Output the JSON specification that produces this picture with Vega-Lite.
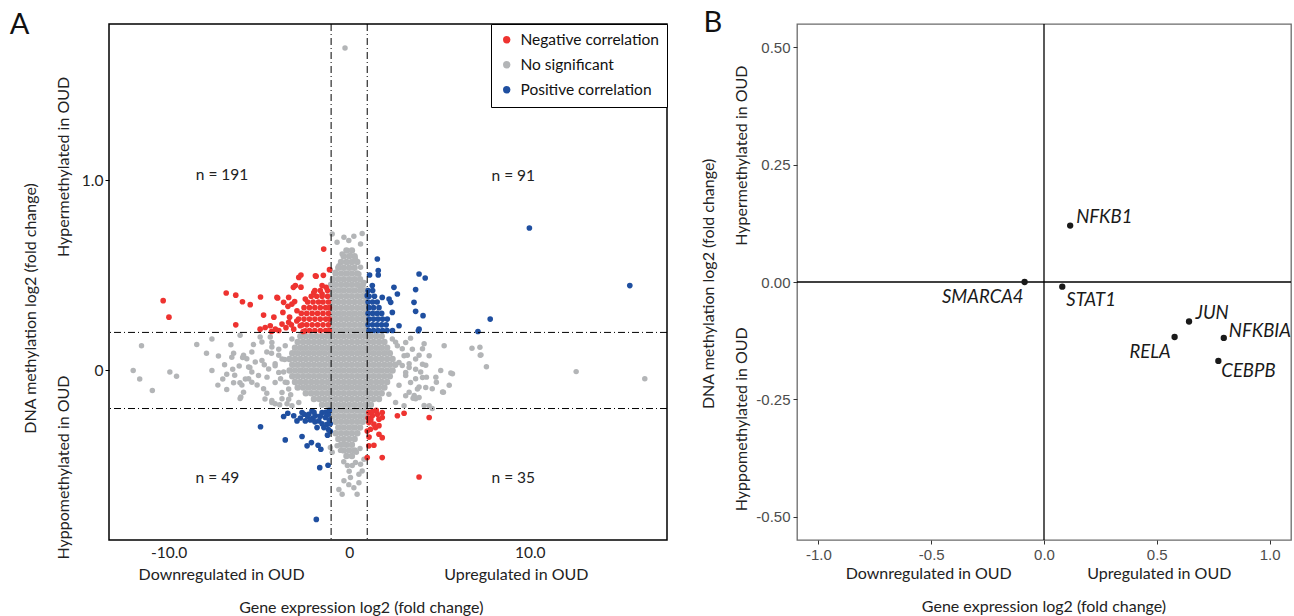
{
"$schema":"https://vega.github.io/schema/vega-lite/v6.json",
"background":"white",
"padding":{"left":9,"top":8,"right":0,"bottom":0},
"bounds":"flush",
"spacing":130,
"resolve":{"scale":{"color":"independent"},"legend":{"color":"independent"}},
"config":{"axis":{"grid":false},"text":{"font":"Lato"}},
"datasets":{
"core":[
{"x":-0.15,"y":0.63},{"x":0.15,"y":0.63},
{"x":-0.3,"y":0.6},{"x":0,"y":0.6},{"x":0.3,"y":0.6},
{"x":-0.45,"y":0.57},{"x":-0.15,"y":0.57},{"x":0.15,"y":0.57},{"x":0.45,"y":0.57},
{"x":-0.6,"y":0.54},{"x":-0.3,"y":0.54},{"x":0,"y":0.54},{"x":0.3,"y":0.54},
{"x":-0.75,"y":0.51},{"x":-0.45,"y":0.51},{"x":-0.15,"y":0.51},{"x":0.15,"y":0.51},{"x":0.45,"y":0.51},
{"x":-0.9,"y":0.48},{"x":-0.6,"y":0.48},{"x":-0.3,"y":0.48},{"x":0,"y":0.48},{"x":0.3,"y":0.48},{"x":0.6,"y":0.48},
{"x":-1,"y":0.45},{"x":-0.75,"y":0.45},{"x":-0.45,"y":0.45},{"x":-0.15,"y":0.45},{"x":0.15,"y":0.45},{"x":0.45,"y":0.45},{"x":0.75,"y":0.45},
{"x":-0.9,"y":0.42},{"x":-0.6,"y":0.42},{"x":-0.3,"y":0.42},{"x":0,"y":0.42},{"x":0.3,"y":0.42},{"x":0.6,"y":0.42},{"x":0.9,"y":0.42},
{"x":-1,"y":0.39},{"x":-0.75,"y":0.39},{"x":-0.45,"y":0.39},{"x":-0.15,"y":0.39},{"x":0.15,"y":0.39},{"x":0.45,"y":0.39},{"x":0.75,"y":0.39},{"x":0.95,"y":0.39},
{"x":-0.9,"y":0.36},{"x":-0.6,"y":0.36},{"x":-0.3,"y":0.36},{"x":0,"y":0.36},{"x":0.3,"y":0.36},{"x":0.6,"y":0.36},{"x":0.9,"y":0.36},
{"x":-1,"y":0.33},{"x":-0.75,"y":0.33},{"x":-0.45,"y":0.33},{"x":-0.15,"y":0.33},{"x":0.15,"y":0.33},{"x":0.45,"y":0.33},{"x":0.75,"y":0.33},{"x":0.95,"y":0.33},
{"x":-0.9,"y":0.3},{"x":-0.6,"y":0.3},{"x":-0.3,"y":0.3},{"x":0,"y":0.3},{"x":0.3,"y":0.3},{"x":0.6,"y":0.3},{"x":0.9,"y":0.3},
{"x":-1,"y":0.27},{"x":-0.75,"y":0.27},{"x":-0.45,"y":0.27},{"x":-0.15,"y":0.27},{"x":0.15,"y":0.27},{"x":0.45,"y":0.27},{"x":0.75,"y":0.27},{"x":0.95,"y":0.27},
{"x":-0.9,"y":0.24},{"x":-0.6,"y":0.24},{"x":-0.3,"y":0.24},{"x":0,"y":0.24},{"x":0.3,"y":0.24},{"x":0.6,"y":0.24},{"x":0.9,"y":0.24},
{"x":-1,"y":0.21},{"x":-0.75,"y":0.21},{"x":-0.45,"y":0.21},{"x":-0.15,"y":0.21},{"x":0.15,"y":0.21},{"x":0.45,"y":0.21},{"x":0.75,"y":0.21},{"x":0.95,"y":0.21},
{"x":-2.7,"y":0.18},{"x":-2.4,"y":0.18},{"x":-2.1,"y":0.18},{"x":-1.8,"y":0.18},{"x":-1.5,"y":0.18},{"x":-1.2,"y":0.18},{"x":-0.9,"y":0.18},{"x":-0.6,"y":0.18},{"x":-0.3,"y":0.18},{"x":0,"y":0.18},{"x":0.3,"y":0.18},{"x":0.6,"y":0.18},{"x":0.9,"y":0.18},{"x":1.2,"y":0.18},{"x":1.5,"y":0.18},{"x":1.8,"y":0.18},
{"x":-2.85,"y":0.15},{"x":-2.55,"y":0.15},{"x":-2.25,"y":0.15},{"x":-1.95,"y":0.15},{"x":-1.65,"y":0.15},{"x":-1.35,"y":0.15},{"x":-1.05,"y":0.15},{"x":-0.75,"y":0.15},{"x":-0.45,"y":0.15},{"x":-0.15,"y":0.15},{"x":0.15,"y":0.15},{"x":0.45,"y":0.15},{"x":0.75,"y":0.15},{"x":1.05,"y":0.15},{"x":1.35,"y":0.15},{"x":1.65,"y":0.15},{"x":1.95,"y":0.15},
{"x":-3,"y":0.12},{"x":-2.7,"y":0.12},{"x":-2.4,"y":0.12},{"x":-2.1,"y":0.12},{"x":-1.8,"y":0.12},{"x":-1.5,"y":0.12},{"x":-1.2,"y":0.12},{"x":-0.9,"y":0.12},{"x":-0.6,"y":0.12},{"x":-0.3,"y":0.12},{"x":0,"y":0.12},{"x":0.3,"y":0.12},{"x":0.6,"y":0.12},{"x":0.9,"y":0.12},{"x":1.2,"y":0.12},{"x":1.5,"y":0.12},{"x":1.8,"y":0.12},{"x":2.1,"y":0.12},
{"x":-3.15,"y":0.09},{"x":-2.85,"y":0.09},{"x":-2.55,"y":0.09},{"x":-2.25,"y":0.09},{"x":-1.95,"y":0.09},{"x":-1.65,"y":0.09},{"x":-1.35,"y":0.09},{"x":-1.05,"y":0.09},{"x":-0.75,"y":0.09},{"x":-0.45,"y":0.09},{"x":-0.15,"y":0.09},{"x":0.15,"y":0.09},{"x":0.45,"y":0.09},{"x":0.75,"y":0.09},{"x":1.05,"y":0.09},{"x":1.35,"y":0.09},{"x":1.65,"y":0.09},{"x":1.95,"y":0.09},{"x":2.25,"y":0.09},
{"x":-3.3,"y":0.06},{"x":-3,"y":0.06},{"x":-2.7,"y":0.06},{"x":-2.4,"y":0.06},{"x":-2.1,"y":0.06},{"x":-1.8,"y":0.06},{"x":-1.5,"y":0.06},{"x":-1.2,"y":0.06},{"x":-0.9,"y":0.06},{"x":-0.6,"y":0.06},{"x":-0.3,"y":0.06},{"x":0,"y":0.06},{"x":0.3,"y":0.06},{"x":0.6,"y":0.06},{"x":0.9,"y":0.06},{"x":1.2,"y":0.06},{"x":1.5,"y":0.06},{"x":1.8,"y":0.06},{"x":2.1,"y":0.06},{"x":2.4,"y":0.06},
{"x":-3.15,"y":0.03},{"x":-2.85,"y":0.03},{"x":-2.55,"y":0.03},{"x":-2.25,"y":0.03},{"x":-1.95,"y":0.03},{"x":-1.65,"y":0.03},{"x":-1.35,"y":0.03},{"x":-1.05,"y":0.03},{"x":-0.75,"y":0.03},{"x":-0.45,"y":0.03},{"x":-0.15,"y":0.03},{"x":0.15,"y":0.03},{"x":0.45,"y":0.03},{"x":0.75,"y":0.03},{"x":1.05,"y":0.03},{"x":1.35,"y":0.03},{"x":1.65,"y":0.03},{"x":1.95,"y":0.03},{"x":2.25,"y":0.03},{"x":2.55,"y":0.03},
{"x":-3.3,"y":0},{"x":-3,"y":0},{"x":-2.7,"y":0},{"x":-2.4,"y":0},{"x":-2.1,"y":0},{"x":-1.8,"y":0},{"x":-1.5,"y":0},{"x":-1.2,"y":0},{"x":-0.9,"y":0},{"x":-0.6,"y":0},{"x":-0.3,"y":0},{"x":0,"y":0},{"x":0.3,"y":0},{"x":0.6,"y":0},{"x":0.9,"y":0},{"x":1.2,"y":0},{"x":1.5,"y":0},{"x":1.8,"y":0},{"x":2.1,"y":0},{"x":2.4,"y":0},
{"x":-3.15,"y":-0.03},{"x":-2.85,"y":-0.03},{"x":-2.55,"y":-0.03},{"x":-2.25,"y":-0.03},{"x":-1.95,"y":-0.03},{"x":-1.65,"y":-0.03},{"x":-1.35,"y":-0.03},{"x":-1.05,"y":-0.03},{"x":-0.75,"y":-0.03},{"x":-0.45,"y":-0.03},{"x":-0.15,"y":-0.03},{"x":0.15,"y":-0.03},{"x":0.45,"y":-0.03},{"x":0.75,"y":-0.03},{"x":1.05,"y":-0.03},{"x":1.35,"y":-0.03},{"x":1.65,"y":-0.03},{"x":1.95,"y":-0.03},{"x":2.25,"y":-0.03},
{"x":-3,"y":-0.06},{"x":-2.7,"y":-0.06},{"x":-2.4,"y":-0.06},{"x":-2.1,"y":-0.06},{"x":-1.8,"y":-0.06},{"x":-1.5,"y":-0.06},{"x":-1.2,"y":-0.06},{"x":-0.9,"y":-0.06},{"x":-0.6,"y":-0.06},{"x":-0.3,"y":-0.06},{"x":0,"y":-0.06},{"x":0.3,"y":-0.06},{"x":0.6,"y":-0.06},{"x":0.9,"y":-0.06},{"x":1.2,"y":-0.06},{"x":1.5,"y":-0.06},{"x":1.8,"y":-0.06},{"x":2.1,"y":-0.06},
{"x":-2.85,"y":-0.09},{"x":-2.55,"y":-0.09},{"x":-2.25,"y":-0.09},{"x":-1.95,"y":-0.09},{"x":-1.65,"y":-0.09},{"x":-1.35,"y":-0.09},{"x":-1.05,"y":-0.09},{"x":-0.75,"y":-0.09},{"x":-0.45,"y":-0.09},{"x":-0.15,"y":-0.09},{"x":0.15,"y":-0.09},{"x":0.45,"y":-0.09},{"x":0.75,"y":-0.09},{"x":1.05,"y":-0.09},{"x":1.35,"y":-0.09},{"x":1.65,"y":-0.09},{"x":1.95,"y":-0.09},
{"x":-2.4,"y":-0.12},{"x":-2.1,"y":-0.12},{"x":-1.8,"y":-0.12},{"x":-1.5,"y":-0.12},{"x":-1.2,"y":-0.12},{"x":-0.9,"y":-0.12},{"x":-0.6,"y":-0.12},{"x":-0.3,"y":-0.12},{"x":0,"y":-0.12},{"x":0.3,"y":-0.12},{"x":0.6,"y":-0.12},{"x":0.9,"y":-0.12},{"x":1.2,"y":-0.12},{"x":1.5,"y":-0.12},{"x":1.8,"y":-0.12},
{"x":-1.95,"y":-0.15},{"x":-1.65,"y":-0.15},{"x":-1.35,"y":-0.15},{"x":-1.05,"y":-0.15},{"x":-0.75,"y":-0.15},{"x":-0.45,"y":-0.15},{"x":-0.15,"y":-0.15},{"x":0.15,"y":-0.15},{"x":0.45,"y":-0.15},{"x":0.75,"y":-0.15},{"x":1.05,"y":-0.15},{"x":1.35,"y":-0.15},{"x":1.65,"y":-0.15},
{"x":-1.5,"y":-0.18},{"x":-1.2,"y":-0.18},{"x":-0.9,"y":-0.18},{"x":-0.6,"y":-0.18},{"x":-0.3,"y":-0.18},{"x":0,"y":-0.18},{"x":0.3,"y":-0.18},{"x":0.6,"y":-0.18},{"x":0.9,"y":-0.18},{"x":1.2,"y":-0.18},
{"x":-1,"y":-0.21},{"x":-0.75,"y":-0.21},{"x":-0.45,"y":-0.21},{"x":-0.15,"y":-0.21},{"x":0.15,"y":-0.21},{"x":0.45,"y":-0.21},{"x":0.75,"y":-0.21},{"x":0.95,"y":-0.21},
{"x":-0.9,"y":-0.24},{"x":-0.6,"y":-0.24},{"x":-0.3,"y":-0.24},{"x":0,"y":-0.24},{"x":0.3,"y":-0.24},{"x":0.6,"y":-0.24},{"x":0.9,"y":-0.24},
{"x":-0.75,"y":-0.27},{"x":-0.45,"y":-0.27},{"x":-0.15,"y":-0.27},{"x":0.15,"y":-0.27},{"x":0.45,"y":-0.27},{"x":0.75,"y":-0.27},
{"x":-0.6,"y":-0.3},{"x":-0.3,"y":-0.3},{"x":0,"y":-0.3},{"x":0.3,"y":-0.3},{"x":0.6,"y":-0.3},
{"x":-0.75,"y":-0.33},{"x":-0.45,"y":-0.33},{"x":-0.15,"y":-0.33},{"x":0.15,"y":-0.33},{"x":0.45,"y":-0.33},
{"x":-0.6,"y":-0.36},{"x":-0.3,"y":-0.36},{"x":0,"y":-0.36},{"x":0.3,"y":-0.36},
{"x":-0.45,"y":-0.39},{"x":-0.15,"y":-0.39},{"x":0.15,"y":-0.39},
{"x":-0.3,"y":-0.42},{"x":0,"y":-0.42},{"x":0.3,"y":-0.42},
{"x":-0.15,"y":-0.45},{"x":0.15,"y":-0.45}
],
"grey":[
{"x":-0.23,"y":1.695},
{"x":-11.96,"y":0},{"x":-11.5,"y":0.13},{"x":-11.6,"y":-0.045},{"x":-10.9,"y":-0.105},{"x":-9.93,"y":-0.008},{"x":-9.56,"y":-0.03},
{"x":-8.44,"y":0.136},{"x":-7.6,"y":0.165},{"x":-7.9,"y":0.09},{"x":-7.24,"y":0.076},{"x":-6.55,"y":0.135},{"x":-6.4,"y":0.09},{"x":-6.5,"y":0.07},{"x":-7.6,"y":0},{"x":-6.9,"y":0.03},{"x":-6.78,"y":-0.02},{"x":-7,"y":-0.045},{"x":-7.27,"y":-0.077},{"x":-6.78,"y":-0.1},{"x":-6.4,"y":-0.065},{"x":-6.05,"y":-0.065},{"x":-5.94,"y":-0.077},{"x":-6.04,"y":-0.147},{"x":-5.85,"y":-0.115},{"x":-6.09,"y":0.024},{"x":-5.57,"y":0.018},{"x":-5.67,"y":0.062},{"x":-5.85,"y":0.08},{"x":-5.3,"y":0.136},{"x":-4.83,"y":0.15},{"x":-6.04,"y":0.185},{"x":-5.39,"y":0.097},{"x":-5.2,"y":0.045},{"x":-5.39,"y":-0.008},{"x":-5.02,"y":-0.026},{"x":-5.57,"y":-0.044},{"x":-5.39,"y":-0.062},{"x":-4.74,"y":-0.096},{"x":-4.56,"y":-0.12},{"x":-4.28,"y":-0.158},{"x":-4.1,"y":-0.175},{"x":-4.83,"y":0.053},{"x":-4.56,"y":0.097},{"x":-4.28,"y":0.123},{"x":-4.46,"y":0.008},{"x":-4.1,"y":0.035},{"x":-3.9,"y":0.08},{"x":-3.8,"y":-0.044},{"x":-3.63,"y":-0.008},{"x":-3.54,"y":-0.062},{"x":-3.35,"y":-0.097},{"x":-3.72,"y":-0.149},{"x":-3.44,"y":-0.175},{"x":-4.93,"y":0.176},{"x":-4.37,"y":0.176},
{"x":-4.28,"y":-0.168},{"x":-4.1,"y":-0.063},{"x":-3.72,"y":-0.116},{"x":-3.35,"y":-0.151},{"x":-3.9,"y":-0.01},{"x":-3.17,"y":-0.186},{"x":-2.79,"y":-0.168},{"x":-3.44,"y":-0.063},
{"x":-4.28,"y":0.147},{"x":-3.9,"y":0.112},{"x":-3.54,"y":0.13},{"x":-3.17,"y":0.165},{"x":-3.72,"y":0.06},{"x":-4.1,"y":0.025},
{"x":-4.7,"y":0.03},{"x":-4.66,"y":-0.15},{"x":-4.55,"y":-0.035},{"x":-4.3,"y":0.09},{"x":-3.85,"y":-0.18},{"x":-3.57,"y":0.058},{"x":-3.24,"y":-0.128},{"x":-5.1,"y":-0.076},{"x":-5.5,"y":0.016},{"x":-5.9,"y":0.068},{"x":-6,"y":-0.14},{"x":-5.75,"y":-0.045},{"x":-6.45,"y":0.006},{"x":-6.34,"y":-0.025},
{"x":3.4,"y":0.17},{"x":5.26,"y":0.13},{"x":6.8,"y":0.117},{"x":7.26,"y":0.08},{"x":4.15,"y":0.14},{"x":4.06,"y":0.114},{"x":3.87,"y":0.08},{"x":4.24,"y":0.027},{"x":3.96,"y":-0.008},{"x":5.07,"y":0},{"x":5.72,"y":-0.017},{"x":4.8,"y":-0.035},{"x":5.54,"y":-0.078},{"x":5.17,"y":-0.113},{"x":4.6,"y":-0.096},{"x":3.68,"y":-0.044},{"x":3.87,"y":-0.087},{"x":3.6,"y":-0.131},{"x":4.15,"y":-0.184},{"x":3.68,"y":-0.149},{"x":3.32,"y":-0.114},{"x":2.94,"y":0.026},{"x":3.13,"y":-0.026},{"x":2.76,"y":-0.078},{"x":3.22,"y":0.08},{"x":2.94,"y":0.114},{"x":2.57,"y":0.149},{"x":3.32,"y":0.035},
{"x":12.57,"y":-0.006},{"x":16.37,"y":-0.044},{"x":7.24,"y":0.122},{"x":7.3,"y":0.082},{"x":7.6,"y":0.02},{"x":5.63,"y":-0.013},{"x":5.22,"y":-0.115},{"x":4.83,"y":-0.062},{"x":4.28,"y":-0.035},{"x":3.78,"y":-0.097},{"x":3.54,"y":-0.146},{"x":4.6,"y":-0.2},
{"x":3.13,"y":-0.01},{"x":3.68,"y":0.007},{"x":4.06,"y":-0.037},{"x":3.4,"y":-0.063},{"x":4.24,"y":-0.09},{"x":3.87,"y":-0.142},{"x":4.43,"y":-0.186},{"x":3.13,"y":-0.133},{"x":2.57,"y":-0.168},{"x":3.04,"y":-0.186},{"x":2.2,"y":-0.125},
{"x":2.39,"y":0.165},{"x":2.67,"y":0.13},{"x":3.13,"y":0.147},{"x":3.5,"y":0.112},{"x":3.04,"y":0.077},{"x":3.68,"y":0.06},{"x":4.06,"y":0.033},{"x":4.43,"y":0.077},{"x":3.32,"y":0.016},{"x":2.76,"y":0.042},
{"x":-0.94,"y":0.717},{"x":-0.29,"y":0.7},{"x":0.26,"y":0.705},{"x":0.72,"y":0.72},{"x":-0.67,"y":0.674},{"x":-0.02,"y":0.683},{"x":0.63,"y":0.665},{"x":-0.39,"y":0.612},{"x":0.07,"y":0.604},{"x":-0.11,"y":0.568},{"x":0.35,"y":0.586},{"x":0.63,"y":0.542},{"x":0.54,"y":0.507},{"x":-0.76,"y":0.516},{"x":-0.57,"y":0.551},{"x":0.82,"y":0.463},{"x":0.63,"y":0.437},{"x":-1.04,"y":0.53},
{"x":-0.57,"y":-0.625},{"x":-0.29,"y":-0.58},{"x":-0.02,"y":-0.6},{"x":0.26,"y":-0.616},{"x":0.54,"y":-0.59},{"x":0.44,"y":-0.65},{"x":-0.39,"y":-0.65},{"x":0.07,"y":-0.563},{"x":0.54,"y":-0.546},{"x":0.72,"y":-0.528},{"x":0.35,"y":-0.484},{"x":0.63,"y":-0.493},{"x":0.82,"y":-0.467},{"x":0.17,"y":-0.5},{"x":-1.04,"y":-0.405},{"x":-0.94,"y":-0.43},{"x":-0.67,"y":-0.396},{"x":-0.48,"y":-0.42},{"x":-0.29,"y":-0.388},{"x":0.4,"y":-0.43},{"x":0.6,"y":-0.41},{"x":-0.1,"y":-0.5},{"x":-0.3,"y":-0.48},{"x":0,"y":-0.53}
],
"red":[
{"x":-10.3,"y":0.367},{"x":-9.98,"y":0.28},{"x":-6.81,"y":0.407},{"x":-6.28,"y":0.396},{"x":-5.91,"y":0.361},{"x":-5.48,"y":0.346},{"x":-6.28,"y":0.24},{"x":-4.91,"y":0.386},{"x":-3.96,"y":0.381},{"x":-4.74,"y":0.291},{"x":-4.17,"y":0.28},{"x":-3.39,"y":0.337},{"x":-2.89,"y":0.314},{"x":-3.67,"y":0.305},{"x":-4.93,"y":0.217},{"x":-4.65,"y":0.226},{"x":-4.37,"y":0.235},{"x":-4.09,"y":0.217},{"x":-3.72,"y":0.244},{"x":-3.35,"y":0.253},{"x":-3.07,"y":0.217},{"x":-2.71,"y":0.235},{"x":-2.43,"y":0.209},{"x":-3.09,"y":0.437},{"x":-2.79,"y":0.489},{"x":-2.67,"y":0.502},{"x":-2.67,"y":0.438},{"x":-1.83,"y":0.495},{"x":-1.43,"y":0.5},{"x":-1.41,"y":0.638},{"x":-1.09,"y":0.53},{"x":-3.02,"y":0.362},{"x":-2.43,"y":0.375},{"x":-1.96,"y":0.41},{"x":-1.5,"y":0.402},{"x":-1.28,"y":0.437},{"x":-2.98,"y":0.446},{"x":-1.87,"y":0.498},{"x":-1.5,"y":0.446},{"x":-4,"y":0.384},{"x":-3.63,"y":0.358},{"x":-3.35,"y":0.384},{"x":-3.17,"y":0.349},
{"x":-2.2,"y":0.21},{"x":-1.9,"y":0.21},{"x":-1.6,"y":0.21},{"x":-1.3,"y":0.21},{"x":-1.1,"y":0.21},
{"x":-2.6,"y":0.24},{"x":-2.35,"y":0.24},{"x":-2.05,"y":0.24},{"x":-1.75,"y":0.24},{"x":-1.45,"y":0.24},{"x":-1.15,"y":0.24},
{"x":-2.8,"y":0.27},{"x":-2.5,"y":0.27},{"x":-2.2,"y":0.27},{"x":-1.9,"y":0.27},{"x":-1.6,"y":0.27},{"x":-1.3,"y":0.27},{"x":-1.1,"y":0.27},
{"x":-2.65,"y":0.3},{"x":-2.35,"y":0.3},{"x":-2.05,"y":0.3},{"x":-1.75,"y":0.3},{"x":-1.45,"y":0.3},{"x":-1.15,"y":0.3},
{"x":-2.5,"y":0.33},{"x":-2.2,"y":0.33},{"x":-1.9,"y":0.33},{"x":-1.6,"y":0.33},{"x":-1.3,"y":0.33},{"x":-1.1,"y":0.33},
{"x":-2.3,"y":0.36},{"x":-2,"y":0.36},{"x":-1.7,"y":0.36},{"x":-1.45,"y":0.36},{"x":-1.15,"y":0.36},
{"x":-2.1,"y":0.39},{"x":-1.8,"y":0.39},{"x":-1.5,"y":0.39},{"x":-1.2,"y":0.39},
{"x":-1.9,"y":0.42},{"x":-1.6,"y":0.42},{"x":-1.2,"y":0.42},
{"x":-3.9,"y":0.21},{"x":-3.5,"y":0.225},{"x":-3.2,"y":0.24},{"x":-2.9,"y":0.26},{"x":-3.3,"y":0.28},{"x":-4.3,"y":0.205},{"x":-2.55,"y":0.205},
{"x":1.09,"y":-0.221},{"x":1.28,"y":-0.238},{"x":1.56,"y":-0.23},{"x":1.83,"y":-0.221},{"x":1.65,"y":-0.256},{"x":1.09,"y":-0.274},{"x":1.37,"y":-0.282},{"x":1.65,"y":-0.29},{"x":1.18,"y":-0.309},{"x":1.46,"y":-0.3},{"x":1,"y":-0.318},{"x":1.83,"y":-0.247},{"x":2.67,"y":-0.238},{"x":3.04,"y":-0.225},{"x":4.43,"y":-0.247},{"x":1.65,"y":-0.335},{"x":1.83,"y":-0.353},{"x":1.09,"y":-0.396},{"x":1.37,"y":-0.393},{"x":1,"y":-0.458},{"x":1.83,"y":-0.458},{"x":3.87,"y":-0.56},{"x":1.05,"y":-0.25},{"x":1.2,"y":-0.26},{"x":1.5,"y":-0.21},{"x":1.1,"y":-0.35},{"x":1.3,"y":-0.215}
],
"blue":[
{"x":1.56,"y":0.586},{"x":1.61,"y":0.525},{"x":1.61,"y":0.502},{"x":1.13,"y":0.502},{"x":3.87,"y":0.507},{"x":4.21,"y":0.486},{"x":2.48,"y":0.437},{"x":2.67,"y":0.402},{"x":1.28,"y":0.446},{"x":1.83,"y":0.384},{"x":2.21,"y":0.375},{"x":2.3,"y":0.358},{"x":3.59,"y":0.358},{"x":3.68,"y":0.311},{"x":4.09,"y":0.288},{"x":3.87,"y":0.217},{"x":2.39,"y":0.305},{"x":2.11,"y":0.27},{"x":2.76,"y":0.235},{"x":9.98,"y":0.749},{"x":15.54,"y":0.446},{"x":7.81,"y":0.27},{"x":7.13,"y":0.205},{"x":3.68,"y":0.425},{"x":3.83,"y":0.209},{"x":1,"y":0.393},
{"x":1.1,"y":0.21},{"x":1.35,"y":0.21},{"x":1.6,"y":0.21},{"x":1.85,"y":0.21},{"x":2.1,"y":0.21},{"x":2.4,"y":0.21},
{"x":1.05,"y":0.24},{"x":1.3,"y":0.24},{"x":1.55,"y":0.24},{"x":1.8,"y":0.24},{"x":2.05,"y":0.24},
{"x":1.1,"y":0.27},{"x":1.35,"y":0.27},{"x":1.6,"y":0.27},{"x":1.85,"y":0.27},
{"x":1.05,"y":0.3},{"x":1.3,"y":0.3},{"x":1.55,"y":0.3},{"x":1.8,"y":0.3},
{"x":1.1,"y":0.33},{"x":1.35,"y":0.33},{"x":1.65,"y":0.33},
{"x":1.05,"y":0.36},{"x":1.3,"y":0.36},{"x":1.55,"y":0.36},
{"x":1.1,"y":0.39},{"x":1.4,"y":0.39},
{"x":1.05,"y":0.42},{"x":1.3,"y":0.42},
{"x":-4.91,"y":-0.296},{"x":-3.63,"y":-0.242},{"x":-3.07,"y":-0.238},{"x":-3.54,"y":-0.365},{"x":-2.61,"y":-0.347},{"x":-2.33,"y":-0.396},{"x":-2.09,"y":-0.379},{"x":-1.72,"y":-0.393},{"x":-1.57,"y":-0.414},{"x":-1.63,"y":-0.511},{"x":-1.17,"y":-0.498},{"x":-1.82,"y":-0.783},{"x":-2.89,"y":-0.265},{"x":-2.61,"y":-0.221},{"x":-2.43,"y":-0.265},{"x":-2.24,"y":-0.23},{"x":-2.06,"y":-0.212},{"x":-1.87,"y":-0.238},{"x":-1.68,"y":-0.265},{"x":-1.5,"y":-0.221},{"x":-1.32,"y":-0.247},{"x":-1.22,"y":-0.283},{"x":-1.4,"y":-0.3},{"x":-1.78,"y":-0.3},{"x":-2,"y":-0.25},{"x":-1.9,"y":-0.27},{"x":-1.6,"y":-0.24},{"x":-1.3,"y":-0.22},{"x":-1.15,"y":-0.23},{"x":-1.1,"y":-0.26},{"x":-2.3,"y":-0.24},{"x":-2.7,"y":-0.25},{"x":-1.05,"y":-0.32},{"x":-1.2,"y":-0.34},{"x":-1.5,"y":-0.28},{"x":-1.1,"y":-0.21},{"x":-3.4,"y":-0.225},{"x":-1.05,"y":-0.28},{"x":-1.15,"y":-0.31},{"x":-2.15,"y":-0.26},{"x":-1.95,"y":-0.22},{"x":-2.5,"y":-0.23}
],
"genes":[
{"gene":"NFKB1","x":0.116,"y":0.12},{"gene":"SMARCA4","x":-0.086,"y":0},{"gene":"STAT1","x":0.081,"y":-0.01},{"gene":"JUN","x":0.643,"y":-0.084},{"gene":"RELA","x":0.579,"y":-0.117},{"gene":"NFKBIA","x":0.797,"y":-0.119},{"gene":"CEBPB","x":0.773,"y":-0.168}
]
},
"hconcat":[
{
"width":558,"height":516,
"view":{"stroke":"#000","strokeWidth":1.5},
"layer":[
{"data":{"name":"core"},"mark":{"type":"circle","size":42,"opacity":1},
 "encoding":{
  "x":{"field":"x","type":"quantitative","scale":{"domain":[-13.3,17.6],"nice":false,"zero":false},
   "axis":{"values":[-10,0,10],"labelExpr":"datum.value==0?'0':replace(format(datum.value,'.1f'),'−','-')","ticks":false,"labelPadding":5,"domain":false,"grid":false,"title":null,"labelFont":"Lato","labelFontSize":15.5,"labelColor":"#222"}},
  "y":{"field":"y","type":"quantitative","scale":{"domain":[-0.891,1.821],"nice":false,"zero":false},
   "axis":{"values":[0,1],"labelExpr":"datum.value==0?'0':format(datum.value,'.1f')","tickSize":4,"tickColor":"#000","labelPadding":2,"domain":false,"grid":false,"title":null,"labelFont":"Lato","labelFontSize":15.5,"labelColor":"#222"}},
  "color":{"datum":"No significant","type":"nominal","scale":{"domain":["Negative correlation","No significant","Positive correlation"],"range":["#ee3330","#b3b5b7","#1f4fa0"]},
   "legend":{"title":null,"orient":"top-right","offset":0,"fillColor":"#fff","strokeColor":"#000","padding":8,"labelFont":"Lato","labelFontSize":15.5,"labelColor":"#111","symbolType":"circle","symbolSize":55,"symbolStrokeWidth":0,"rowPadding":8,"labelOffset":6,"cornerRadius":0}}
 }},
{"data":{"name":"grey"},"mark":{"type":"circle","size":30,"opacity":1},
 "encoding":{
  "x":{"field":"x","type":"quantitative","scale":{"domain":[-13.3,17.6],"nice":false,"zero":false}},
  "y":{"field":"y","type":"quantitative","scale":{"domain":[-0.891,1.821],"nice":false,"zero":false}},
  "color":{"datum":"No significant","type":"nominal"}
 }},
{"data":{"name":"red"},"mark":{"type":"circle","size":32,"opacity":1},
 "encoding":{
  "x":{"field":"x","type":"quantitative","scale":{"domain":[-13.3,17.6],"nice":false,"zero":false}},
  "y":{"field":"y","type":"quantitative","scale":{"domain":[-0.891,1.821],"nice":false,"zero":false}},
  "color":{"datum":"Negative correlation","type":"nominal"}
 }},
{"data":{"name":"blue"},"mark":{"type":"circle","size":32,"opacity":1},
 "encoding":{
  "x":{"field":"x","type":"quantitative","scale":{"domain":[-13.3,17.6],"nice":false,"zero":false}},
  "y":{"field":"y","type":"quantitative","scale":{"domain":[-0.891,1.821],"nice":false,"zero":false}},
  "color":{"datum":"Positive correlation","type":"nominal"}
 }},
{"data":{"values":[{"v":-1},{"v":1}]},"mark":{"type":"rule","strokeDash":[7,3,1,3],"strokeWidth":1,"color":"#000"},
 "encoding":{"x":{"field":"v","type":"quantitative","scale":{"domain":[-13.3,17.6],"nice":false,"zero":false}}}},
{"data":{"values":[{"v":0.2},{"v":-0.2}]},"mark":{"type":"rule","strokeDash":[7,3,1,3],"strokeWidth":1,"color":"#000"},
 "encoding":{"y":{"field":"v","type":"quantitative","scale":{"domain":[-0.891,1.821],"nice":false,"zero":false}}}},
{"data":{"values":[{"x":-7.04,"y":1.03,"t":"n = 191"},{"x":9.09,"y":1.02,"t":"n = 91"},{"x":-7.3,"y":-0.563,"t":"n = 49"},{"x":9.09,"y":-0.563,"t":"n = 35"}]},
 "mark":{"type":"text","font":"Lato","fontSize":15.5,"color":"#222","baseline":"middle"},
 "encoding":{"x":{"field":"x","type":"quantitative","scale":{"domain":[-13.3,17.6],"nice":false,"zero":false}},"y":{"field":"y","type":"quantitative","scale":{"domain":[-0.891,1.821],"nice":false,"zero":false}},"text":{"field":"t"}}},
{"data":{"values":[{"x":-7.06,"y":-1.076,"t":"Downregulated in OUD"},{"x":9.26,"y":-1.076,"t":"Upregulated in OUD"},{"x":0.67,"y":-1.247,"t":"Gene expression log2 (fold change)"}]},
 "mark":{"type":"text","font":"Lato","fontSize":16,"color":"#222","baseline":"middle"},
 "encoding":{"x":{"field":"x","type":"quantitative","scale":{"domain":[-13.3,17.6],"nice":false,"zero":false}},"y":{"field":"y","type":"quantitative","scale":{"domain":[-0.891,1.821],"nice":false,"zero":false}},"text":{"field":"t"}}},
{"data":{"values":[{"x":-15.8,"y":1.07,"t":"Hypermethylated in OUD"},{"x":-15.8,"y":-0.51,"t":"Hyppomethylated in OUD"},{"x":-17.64,"y":0.326,"t":"DNA methylation log2 (fold change)"}]},
 "mark":{"type":"text","font":"Lato","fontSize":16,"color":"#222","baseline":"middle","angle":270},
 "encoding":{"x":{"field":"x","type":"quantitative","scale":{"domain":[-13.3,17.6],"nice":false,"zero":false}},"y":{"field":"y","type":"quantitative","scale":{"domain":[-0.891,1.821],"nice":false,"zero":false}},"text":{"field":"t"}}},
{"data":{"values":[{"x":-18.25,"y":1.818,"t":"A"}]},
 "mark":{"type":"text","font":"Lato","fontSize":29,"color":"#111","baseline":"middle"},
 "encoding":{"x":{"field":"x","type":"quantitative","scale":{"domain":[-13.3,17.6],"nice":false,"zero":false}},"y":{"field":"y","type":"quantitative","scale":{"domain":[-0.891,1.821],"nice":false,"zero":false}},"text":{"field":"t"}}}
]
},
{
"width":494,"height":516,
"view":{"stroke":"#6b6b6b","strokeWidth":1.3},
"layer":[
{"data":{"values":[{"v":0}]},"mark":{"type":"rule","color":"#000","strokeWidth":1.3},
 "encoding":{"x":{"field":"v","type":"quantitative","scale":{"domain":[-1.095,1.095],"nice":false,"zero":false},
  "axis":{"values":[-1,-0.5,0,0.5,1],"labelExpr":"replace(format(datum.value,'.1f'),'−','-')","tickSize":4,"tickColor":"#333","labelPadding":3,"domain":false,"grid":false,"title":null,"labelFont":"Liberation Sans","labelFontSize":15,"labelColor":"#4d4d4d"}}}},
{"data":{"values":[{"v":0}]},"mark":{"type":"rule","color":"#000","strokeWidth":1.3},
 "encoding":{"y":{"field":"v","type":"quantitative","scale":{"domain":[-0.549,0.549],"nice":false,"zero":false},
  "axis":{"values":[-0.5,-0.25,0,0.25,0.5],"labelExpr":"replace(format(datum.value,'.2f'),'−','-')","tickSize":4,"tickColor":"#333","labelPadding":3,"domain":false,"grid":false,"title":null,"labelFont":"Liberation Sans","labelFontSize":15,"labelColor":"#4d4d4d"}}}},
{"data":{"name":"genes"},"mark":{"type":"circle","size":40,"color":"#1a1a1a","opacity":1},
 "encoding":{"x":{"field":"x","type":"quantitative","scale":{"domain":[-1.095,1.095],"nice":false,"zero":false}},"y":{"field":"y","type":"quantitative","scale":{"domain":[-0.549,0.549],"nice":false,"zero":false}}}},
{"data":{"name":"genes"},"transform":[{"filter":"datum.gene=='NFKB1'"}],"mark":{"type":"text","align":"left","baseline":"middle","dx":6,"dy":-9,"font":"Lato","fontStyle":"italic","fontSize":18.5,"color":"#1a1a1a"},
 "encoding":{"x":{"field":"x","type":"quantitative","scale":{"domain":[-1.095,1.095],"nice":false,"zero":false}},"y":{"field":"y","type":"quantitative","scale":{"domain":[-0.549,0.549],"nice":false,"zero":false}},"text":{"field":"gene"}}},
{"data":{"name":"genes"},"transform":[{"filter":"datum.gene=='SMARCA4'"}],"mark":{"type":"text","align":"right","baseline":"middle","dx":-1,"dy":15,"font":"Lato","fontStyle":"italic","fontSize":18.5,"color":"#1a1a1a"},
 "encoding":{"x":{"field":"x","type":"quantitative","scale":{"domain":[-1.095,1.095],"nice":false,"zero":false}},"y":{"field":"y","type":"quantitative","scale":{"domain":[-0.549,0.549],"nice":false,"zero":false}},"text":{"field":"gene"}}},
{"data":{"name":"genes"},"transform":[{"filter":"datum.gene=='STAT1'"}],"mark":{"type":"text","align":"left","baseline":"middle","dx":4,"dy":13,"font":"Lato","fontStyle":"italic","fontSize":18.5,"color":"#1a1a1a"},
 "encoding":{"x":{"field":"x","type":"quantitative","scale":{"domain":[-1.095,1.095],"nice":false,"zero":false}},"y":{"field":"y","type":"quantitative","scale":{"domain":[-0.549,0.549],"nice":false,"zero":false}},"text":{"field":"gene"}}},
{"data":{"name":"genes"},"transform":[{"filter":"datum.gene=='JUN'"}],"mark":{"type":"text","align":"left","baseline":"middle","dx":6.5,"dy":-8.6,"font":"Lato","fontStyle":"italic","fontSize":18.5,"color":"#1a1a1a"},
 "encoding":{"x":{"field":"x","type":"quantitative","scale":{"domain":[-1.095,1.095],"nice":false,"zero":false}},"y":{"field":"y","type":"quantitative","scale":{"domain":[-0.549,0.549],"nice":false,"zero":false}},"text":{"field":"gene"}}},
{"data":{"name":"genes"},"transform":[{"filter":"datum.gene=='RELA'"}],"mark":{"type":"text","align":"right","baseline":"middle","dx":-4,"dy":15,"font":"Lato","fontStyle":"italic","fontSize":18.5,"color":"#1a1a1a"},
 "encoding":{"x":{"field":"x","type":"quantitative","scale":{"domain":[-1.095,1.095],"nice":false,"zero":false}},"y":{"field":"y","type":"quantitative","scale":{"domain":[-0.549,0.549],"nice":false,"zero":false}},"text":{"field":"gene"}}},
{"data":{"name":"genes"},"transform":[{"filter":"datum.gene=='NFKBIA'"}],"mark":{"type":"text","align":"left","baseline":"middle","dx":5,"dy":-7,"font":"Lato","fontStyle":"italic","fontSize":18.5,"color":"#1a1a1a"},
 "encoding":{"x":{"field":"x","type":"quantitative","scale":{"domain":[-1.095,1.095],"nice":false,"zero":false}},"y":{"field":"y","type":"quantitative","scale":{"domain":[-0.549,0.549],"nice":false,"zero":false}},"text":{"field":"gene"}}},
{"data":{"name":"genes"},"transform":[{"filter":"datum.gene=='CEBPB'"}],"mark":{"type":"text","align":"left","baseline":"middle","dx":3,"dy":10,"font":"Lato","fontStyle":"italic","fontSize":18.5,"color":"#1a1a1a"},
 "encoding":{"x":{"field":"x","type":"quantitative","scale":{"domain":[-1.095,1.095],"nice":false,"zero":false}},"y":{"field":"y","type":"quantitative","scale":{"domain":[-0.549,0.549],"nice":false,"zero":false}},"text":{"field":"gene"}}},
{"data":{"values":[{"x":-0.511,"y":-0.621,"t":"Downregulated in OUD"},{"x":0.511,"y":-0.621,"t":"Upregulated in OUD"},{"x":0,"y":-0.691,"t":"Gene expression log2 (fold change)"}]},
 "mark":{"type":"text","font":"Lato","fontSize":16,"color":"#222","baseline":"middle"},
 "encoding":{"x":{"field":"x","type":"quantitative","scale":{"domain":[-1.095,1.095],"nice":false,"zero":false}},"y":{"field":"y","type":"quantitative","scale":{"domain":[-0.549,0.549],"nice":false,"zero":false}},"text":{"field":"t"}}},
{"data":{"values":[{"x":-1.341,"y":0.269,"t":"Hypermethylated in OUD"},{"x":-1.341,"y":-0.292,"t":"Hyppomethylated in OUD"},{"x":-1.486,"y":-0.004,"t":"DNA methylation log2 (fold change)"}]},
 "mark":{"type":"text","font":"Lato","fontSize":16,"color":"#222","baseline":"middle","angle":270},
 "encoding":{"x":{"field":"x","type":"quantitative","scale":{"domain":[-1.095,1.095],"nice":false,"zero":false}},"y":{"field":"y","type":"quantitative","scale":{"domain":[-0.549,0.549],"nice":false,"zero":false}},"text":{"field":"t"}}},
{"data":{"values":[{"x":-1.468,"y":0.551,"t":"B"}]},
 "mark":{"type":"text","font":"Lato","fontSize":29,"color":"#111","baseline":"middle"},
 "encoding":{"x":{"field":"x","type":"quantitative","scale":{"domain":[-1.095,1.095],"nice":false,"zero":false}},"y":{"field":"y","type":"quantitative","scale":{"domain":[-0.549,0.549],"nice":false,"zero":false}},"text":{"field":"t"}}}
]
}
]
}
